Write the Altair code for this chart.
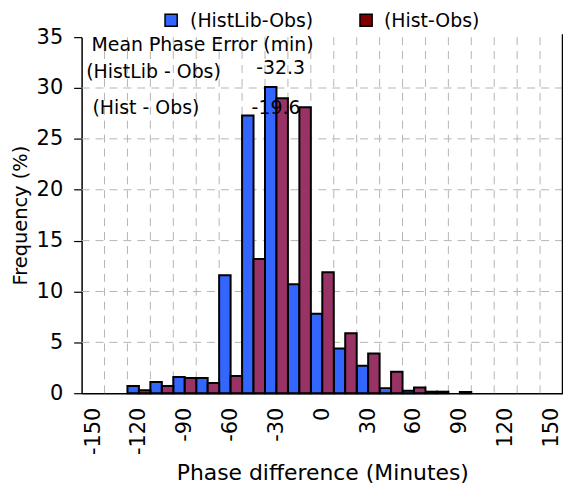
import altair as alt
import pandas as pd

# ---- data ----
bin_centers = [-120, -105, -90, -75, -60, -45, -30, -15, 0, 15, 30, 45, 60, 75, 90]
histlib_obs = [0.7, 1.1, 1.6, 1.5, 11.6, 27.3, 30.1, 10.7, 7.8, 4.4, 2.7, 0.5, 0.25, 0.15, 0.0]
hist_obs = [0.3, 0.7, 1.5, 1.0, 1.7, 13.2, 29.0, 28.1, 11.9, 5.9, 3.9, 2.1, 0.55, 0.15, 0.12]
series_names = ["(HistLib-Obs)", "(Hist-Obs)"]
bar_colors = ["#3366ff", "#993366"]
swatch_colors = ["#3366ff", "#800000"]

x_tick_values = [-150, -120, -90, -60, -30, 0, 30, 60, 90, 120, 150]
y_tick_values = [0, 5, 10, 15, 20, 25, 30, 35]
y_grid_values = [5, 10, 15, 20, 25, 30]
x_grid_values = [-142.5, -127.5, -112.5, -97.5, -82.5, -67.5, -52.5, -37.5, -22.5, -7.5,
                 7.5, 22.5, 37.5, 52.5, 67.5, 82.5, 97.5, 112.5, 127.5, 142.5]

ann_labels = ["Mean Phase Error (min)", "(HistLib - Obs)", "(Hist - Obs)"]
ann_label_x = [-151.0, -154.5, -150.4]
ann_label_y = [33.63, 30.96, 27.44]
ann_values = ["-32.3", "-19.6"]
ann_value_x = [-27.3, -30.3]
ann_value_y = [31.41, 27.44]

FONT = "DejaVu Sans"

rows = []
for name, vals in zip(series_names, [histlib_obs, hist_obs]):
    for b, v in zip(bin_centers, vals):
        if v > 0:
            rows.append({"series": name, "bin": b, "value": v})
df = pd.DataFrame(rows)

xscale = alt.Scale(domain=[-157.5, 157.5], nice=False, zero=False)
yscale = alt.Scale(domain=[0, 35], nice=False, zero=False)

x_axis = alt.Axis(
    values=x_tick_values, labelAngle=270, labelFontSize=21, labelFont=FONT,
    labelExpr="toString(datum.value)",
    ticks=False, tickSize=0, labelPadding=14, grid=False, labelFlush=False,
    labelOverlap=False, domainColor="black", domainWidth=1.5, labelColor="black",
    title="Phase difference (Minutes)", titleFont=FONT, titleFontSize=22,
    titleFontWeight="normal", titleColor="black", titleX=242, titleY=87,
    titleAlign="center", titleBaseline="alphabetic",
)
y_axis = alt.Axis(
    values=y_tick_values, labelFontSize=21, labelFont=FONT, tickSize=8,
    tickColor="black", tickWidth=1.2, labelPadding=11, grid=False,
    domainColor="black", domainWidth=1.5, labelColor="black",
    title="Frequency (%)", titleFont=FONT, titleFontSize=19.5,
    titleFontWeight="normal", titleColor="black", titleX=-61, titleY=179,
    titleAngle=270, titleAlign="center", titleBaseline="middle",
)

vgrid = alt.Chart(pd.DataFrame({"e": x_grid_values})).mark_rule(
    color="#b4b4b4", strokeWidth=1, strokeDash=[8, 6]
).encode(x=alt.X("e:Q", scale=xscale, axis=x_axis))

hgrid = alt.Chart(pd.DataFrame({"g": y_grid_values})).mark_rule(
    color="#b4b4b4", strokeWidth=1, strokeDash=[8, 6]
).encode(y=alt.Y("g:Q", scale=yscale, axis=y_axis))

bars = alt.Chart(df).transform_calculate(
    left="datum.series === '(HistLib-Obs)' ? datum.bin - 7.5 : datum.bin",
    right="datum.series === '(HistLib-Obs)' ? datum.bin : datum.bin + 7.5",
    base="0",
).mark_rect(stroke="black", strokeWidth=2).encode(
    x=alt.X("left:Q", scale=xscale, axis=x_axis),
    x2="right:Q",
    y=alt.Y("value:Q", scale=yscale, axis=y_axis),
    y2="base:Q",
    fill=alt.Fill("series:N", scale=alt.Scale(domain=series_names, range=bar_colors), legend=None),
)

label_df = pd.DataFrame({"t": ann_labels, "x": ann_label_x, "y": ann_label_y})
value_df = pd.DataFrame({"t": ann_values, "x": ann_value_x, "y": ann_value_y})

label_text = alt.Chart(label_df).mark_text(
    align="left", baseline="alphabetic", font=FONT, fontSize=19, color="black"
).encode(
    x=alt.X("x:Q", scale=xscale, axis=x_axis),
    y=alt.Y("y:Q", scale=yscale, axis=y_axis),
    text="t:N",
)
value_text = alt.Chart(value_df).mark_text(
    align="center", baseline="alphabetic", font=FONT, fontSize=19, color="black"
).encode(
    x=alt.X("x:Q", scale=xscale, axis=x_axis),
    y=alt.Y("y:Q", scale=yscale, axis=y_axis),
    text="t:N",
)

dummy = pd.DataFrame({"k": [0]})
top_line = alt.Chart(dummy).mark_rule(color="black", strokeWidth=1.5).encode(
    x=alt.value(-7), x2=alt.value(488), y=alt.value(-31)
)
right_line = alt.Chart(dummy).mark_rule(color="black", strokeWidth=1.5).encode(
    x=alt.value(483.5), y=alt.value(-3), y2=alt.value(358)
)

# ---- legend (drawn as a small key above the plot) ----
legend_parts = []
legend_sym_x = [90, 286]
legend_txt_x = [109, 304]
for name, col, sx, tx in zip(series_names, swatch_colors, legend_sym_x, legend_txt_x):
    one = pd.DataFrame({"t": [name]})
    legend_parts.append(
        alt.Chart(one).mark_square(size=150, fill=col, stroke="black", strokeWidth=1.5, opacity=1)
        .encode(x=alt.value(sx), y=alt.value(-17))
    )
    legend_parts.append(
        alt.Chart(one).mark_text(align="left", baseline="alphabetic", font=FONT, fontSize=19, color="black")
        .encode(x=alt.value(tx), y=alt.value(-10), text="t:N")
    )

chart = alt.layer(
    vgrid, hgrid, bars, label_text, value_text, top_line, right_line, *legend_parts
).properties(
    width=484, height=358,
    autosize=alt.AutoSizeParams(type="none"),
    padding={"left": 74, "top": 28, "right": 0, "bottom": 93},
).configure_view(stroke=None)

chart.save("out.html", embed_options={"renderer": "svg", "actions": False})
